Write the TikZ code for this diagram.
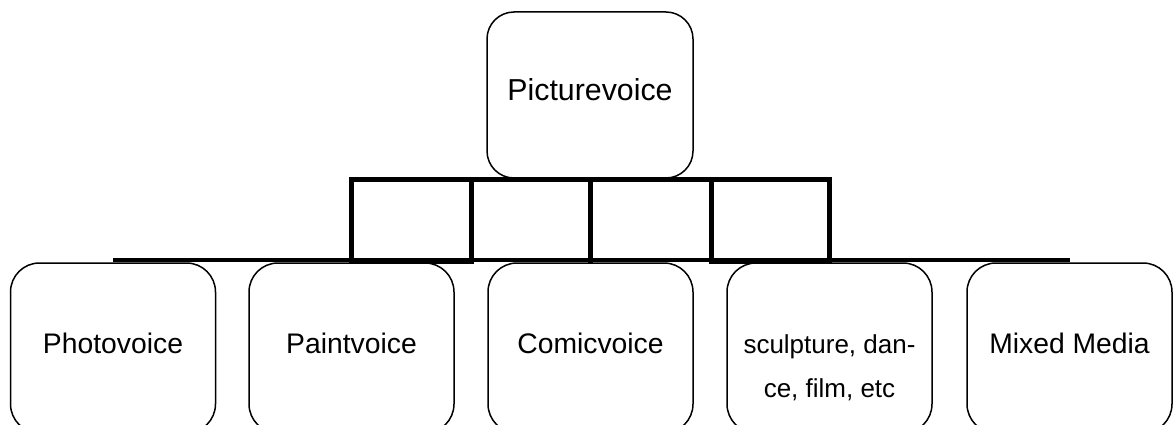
\documentclass[tikz,border=0pt]{standalone}
\usepackage{fontspec}
\setmainfont{Liberation Sans}
\begin{document}
\begin{tikzpicture}[x=1pt,y=-1pt,
  box/.style={draw, line width=1.5pt, rounded corners=29pt, minimum width=205pt,
    minimum height=170pt, inner sep=0pt,
    font=\fontsize{28.3}{34}\selectfont, text height=20pt, text depth=10pt},
  heavy/.style={line width=5pt, line cap=rect, line join=miter},
  mid/.style={line width=4pt}]
\useasboundingbox (0,0) rectangle (1176,425);
\clip (0,0) rectangle (1176,425);
% boxes
\node[box, minimum width=206pt, minimum height=166pt, rounded corners=27pt,
  font=\fontsize{30.3}{36}\selectfont, text height=22pt] (pv) at (590,95) {Picturevoice};
\node[box] (c1) at (113,348) {Photovoice};
\node[box] (c2) at (351.5,348) {Paintvoice};
\node[box] (c3) at (590.5,348) {Comicvoice};
\node[box, font=\fontsize{26}{44}\selectfont, text height=59pt, text depth=49pt] (c4) at (829.5,348)
  {\raisebox{0pt}[59pt][49pt]{\begin{tabular}[t]{@{}c@{}}sculpture, dan-\\ce, film, etc\end{tabular}}};
\node[box] (c5) at (1069.5,348) {Mixed Media};
% helper coordinates
\coordinate (top) at (0,180);
\coordinate (bot) at (0,261.5);
\coordinate (g12) at (471,0);
\coordinate (g34) at (711,0);
% connectors
\draw[mid] ([yshift=2pt]c1.north) -- ([yshift=2pt]c5.north);
\draw[heavy] (c2 |- top) rectangle (g12 |- bot);
\draw[heavy] (g34 |- top) rectangle (c4 |- bot);
\draw[heavy] (g12 |- top) -- (g34 |- top);
\draw[heavy] (c3 |- top) -- (c3 |- bot);
\end{tikzpicture}
\end{document}
